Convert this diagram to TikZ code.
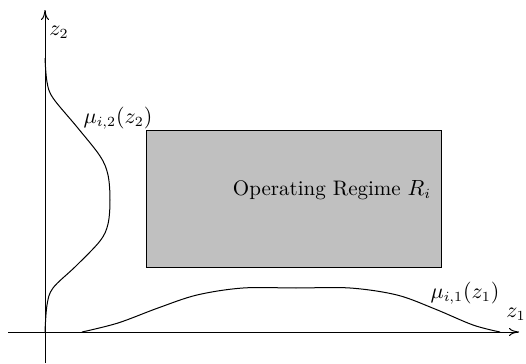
\documentclass[tikz,border=0pt]{standalone}
\usetikzlibrary{arrows.meta}
\definecolor{regime}{RGB}{192,192,192}
\tikzset{
  axis/.style={line width=0.5pt,-{To[length=5pt,width=4pt]}},
  curve/.style={line width=0.5pt},
  lbl/.style={inner sep=0pt,font=\fontsize{10.5}{12}\selectfont},
}
\begin{document}
\begin{tikzpicture}[x=0.5pt,y=-0.5pt]
\useasboundingbox (0,0) rectangle (526,364);
% axes
\coordinate (ybot) at (45,363);
\coordinate (ytop) at (45,10);
\coordinate (xleft) at (8,332);
\coordinate (xright) at (519,332);
\draw[axis] (ybot) -- (ytop);
\draw[axis] (xleft) -- (xright);
% regime
\node[draw=black,line width=0.5pt,fill=regime,minimum width=147.5pt,minimum height=68.5pt,inner sep=0pt] (R) at (293.5,198.5) {};
\node[lbl] (Rt) at (332,190) {Operating Regime $R_i$};
% membership functions
\draw[curve] plot[smooth,tension=0.55] coordinates {(45,58) (47,82) (53,98) (77,127) (100,156) (108,175) (110,200) (108,224) (100,241) (76,266) (53,288) (47,305) (45,332)};
\draw[curve] plot[smooth,tension=0.55] coordinates {(82,332) (118,323) (158,308) (197,295) (243,288) (296,288) (350,288) (397,295) (435,309) (473,325) (500,332)};
% labels
\node[lbl] (z2) at (59,32) {$z_2$};
\node[lbl] (z1) at (516,314) {$z_1$};
\node[lbl] (mu2) at (118,118) {$\mu_{i,2}(z_2)$};
\node[lbl] (mu1) at (465,293) {$\mu_{i,1}(z_1)$};
\end{tikzpicture}
\end{document}
